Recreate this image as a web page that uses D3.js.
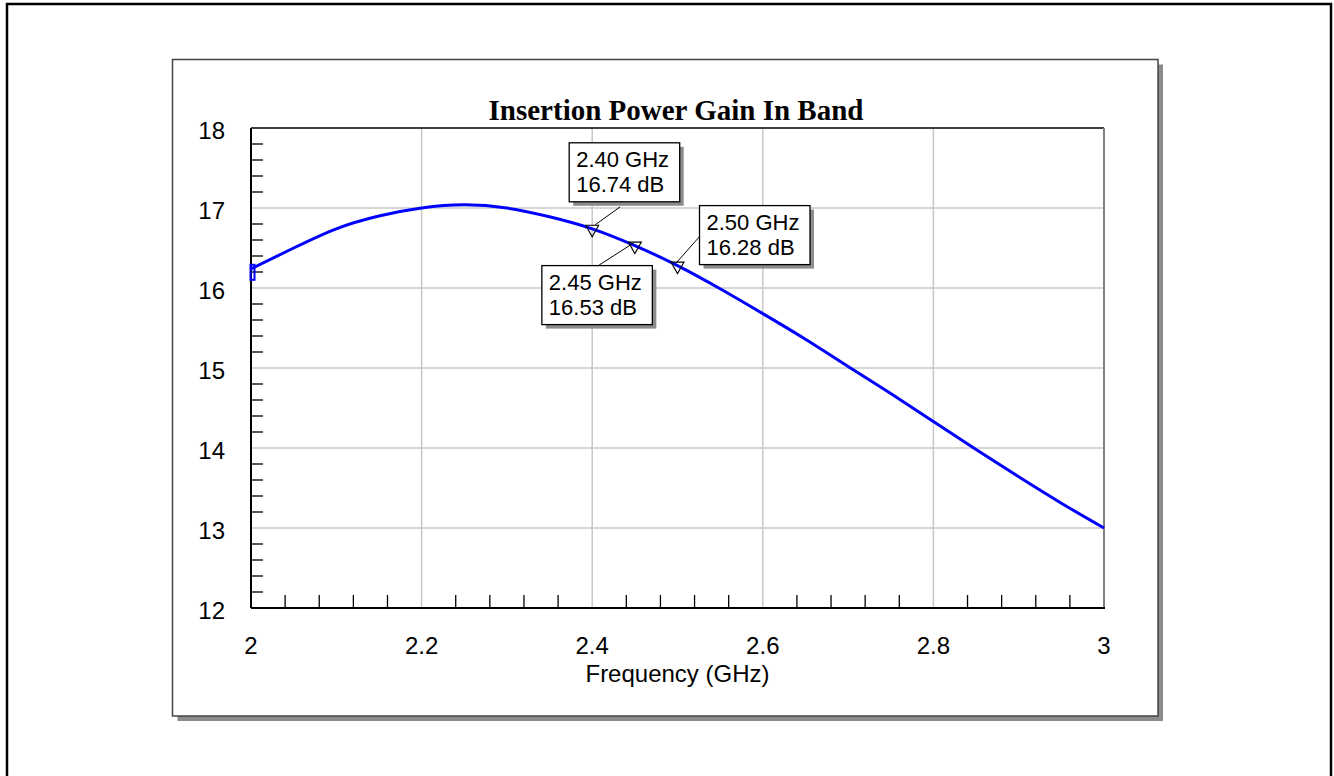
<!DOCTYPE html>
<html>
<head>
<meta charset="utf-8">
<script src="https://cdn.jsdelivr.net/npm/d3@7"></script>
<style>
  html, body { margin: 0; padding: 0; background: #fff; }
  svg { display: block; }
</style>
</head>
<body>
<svg id="chart" width="1334" height="776"></svg>
<script>
// Insertion power gain sweep, 2-3 GHz
const freqGHz = [2.00, 2.05, 2.10, 2.15, 2.20, 2.25, 2.30, 2.35, 2.40, 2.45, 2.50,
                 2.55, 2.60, 2.65, 2.70, 2.75, 2.80, 2.85, 2.90, 2.95, 3.00];
const gainDB  = [16.24, 16.50, 16.74, 16.90, 17.00, 17.04, 17.00, 16.89, 16.74, 16.53, 16.28,
                 15.99, 15.68, 15.36, 15.02, 14.68, 14.33, 13.98, 13.64, 13.31, 13.00];

// Marker readouts
const markerFreq = [2.40, 2.45, 2.50];
const markerGain = [16.74, 16.53, 16.28];

// Axis tick labels
const xTickValues = [2, 2.2, 2.4, 2.6, 2.8, 3];
const xTickLabels = ["2", "2.2", "2.4", "2.6", "2.8", "3"];
const yTickValues = [12, 13, 14, 15, 16, 17, 18];
const yTickLabels = ["12", "13", "14", "15", "16", "17", "18"];

const titleText = "Insertion Power Gain In Band";
const xAxisTitle = "Frequency (GHz)";

const svg = d3.select("#chart");
const FONT = "Liberation Sans, Arial, sans-serif";

// Outer page frame
svg.append("rect")
  .attr("x", 7).attr("y", 4).attr("width", 1324).attr("height", 800)
  .attr("fill", "none").attr("stroke", "#000").attr("stroke-width", 2.5);

// Chart panel with drop shadow
const panel = { x: 172.5, y: 59.5, w: 985.5, h: 656.5 };
svg.append("rect")
  .attr("x", panel.x + 5).attr("y", panel.y + 5).attr("width", panel.w).attr("height", panel.h)
  .attr("fill", "#8c8c8c");
svg.append("rect")
  .attr("x", panel.x).attr("y", panel.y).attr("width", panel.w).attr("height", panel.h)
  .attr("fill", "#fff").attr("stroke", "#444").attr("stroke-width", 1.5);

// Plot area
const plot = { left: 251, top: 128, right: 1104, bottom: 608 };
const x = d3.scaleLinear().domain([2, 3]).range([plot.left, plot.right]);
const y = d3.scaleLinear().domain([12, 18]).range([plot.bottom, plot.top]);

const g = svg.append("g");

// Grid lines
g.selectAll(".vgrid").data(xTickValues.slice(1, -1)).join("line")
  .attr("x1", d => x(d)).attr("x2", d => x(d))
  .attr("y1", plot.top).attr("y2", plot.bottom)
  .attr("stroke", "#c8c8c8").attr("stroke-width", 1.5);
g.selectAll(".hgrid").data(yTickValues.slice(1, -1)).join("line")
  .attr("x1", plot.left).attr("x2", plot.right)
  .attr("y1", d => y(d)).attr("y2", d => y(d))
  .attr("stroke", "#c8c8c8").attr("stroke-width", 1.5);

// Minor ticks pointing into the plot
const xMinor = d3.range(0, 26).map(i => 2 + i * 0.04).filter((d, i) => i % 5 !== 0);
const yMinor = d3.range(0, 31).map(i => 12 + i * 0.2).filter((d, i) => i % 5 !== 0);
g.selectAll(".xminor").data(xMinor).join("line")
  .attr("x1", d => x(d)).attr("x2", d => x(d))
  .attr("y1", plot.bottom).attr("y2", plot.bottom - 13)
  .attr("stroke", "#000").attr("stroke-width", 1.3);
g.selectAll(".yminor").data(yMinor).join("line")
  .attr("x1", plot.left).attr("x2", plot.left + 12)
  .attr("y1", d => y(d)).attr("y2", d => y(d))
  .attr("stroke", "#000").attr("stroke-width", 1.3);

// Plot frame
g.append("line").attr("x1", plot.left).attr("x2", plot.right).attr("y1", plot.top).attr("y2", plot.top)
  .attr("stroke", "#000").attr("stroke-width", 1.5);
g.append("line").attr("x1", plot.right).attr("x2", plot.right).attr("y1", plot.top).attr("y2", plot.bottom)
  .attr("stroke", "#808080").attr("stroke-width", 2);
g.append("line").attr("x1", plot.left).attr("x2", plot.right + 1).attr("y1", plot.bottom).attr("y2", plot.bottom)
  .attr("stroke", "#000").attr("stroke-width", 2);
g.append("line").attr("x1", plot.left).attr("x2", plot.left).attr("y1", plot.top).attr("y2", plot.bottom)
  .attr("stroke", "#000").attr("stroke-width", 2);

// Tick labels
g.selectAll(".xlab").data(xTickValues).join("text")
  .attr("x", d => x(d)).attr("y", plot.bottom + 46)
  .attr("text-anchor", "middle").attr("font-family", FONT).attr("font-size", 24)
  .text((d, i) => xTickLabels[i]);
g.selectAll(".ylab").data(yTickValues).join("text")
  .attr("x", plot.left - 26).attr("y", d => y(d) + 11)
  .attr("text-anchor", "end").attr("font-family", FONT).attr("font-size", 24)
  .text((d, i) => yTickLabels[i]);

// Titles
svg.append("text").attr("x", 676).attr("y", 120)
  .attr("text-anchor", "middle").attr("font-family", "Liberation Serif, Times New Roman, serif")
  .attr("font-weight", "bold").attr("font-size", 29).text(titleText);
svg.append("text").attr("x", (plot.left + plot.right) / 2).attr("y", 682)
  .attr("text-anchor", "middle").attr("font-family", FONT).attr("font-size", 24).text(xAxisTitle);

// Gain trace
const line = d3.line().x(d => x(d[0])).y(d => y(d[1])).curve(d3.curveNatural);
const pts = freqGHz.map((f, i) => [f, gainDB[i]]);
g.append("path").datum(pts).attr("d", line)
  .attr("fill", "none").attr("stroke", "#0000ff").attr("stroke-width", 3);

// Start-of-trace indicator
g.append("rect")
  .attr("x", x(freqGHz[0]) - 0.5).attr("y", y(gainDB[0]) - 4)
  .attr("width", 4).attr("height", 15)
  .attr("fill", "none").attr("stroke", "#0000ff").attr("stroke-width", 2);

// Marker readouts: box offset and leader line endpoints relative to the marked point
const labelLayout = [
  { bx: -23, by: -86, l1: [3, -4],   l2: [28, -22] },
  { bx: -93, by: 20,  l1: [-36.5, 20], l2: [-1.5, -2.5] },
  { bx: 22,  by: -60, l1: [-1, -3],  l2: [22, -29] }
];
const boxW = 110.5, boxH = 59;

markerFreq.forEach((f, i) => {
  const px = x(f), py = y(markerGain[i]);
  const L = labelLayout[i];
  const mg = g.append("g");
  // leader
  mg.append("line")
    .attr("x1", px + L.l1[0]).attr("y1", py + L.l1[1])
    .attr("x2", px + L.l2[0]).attr("y2", py + L.l2[1])
    .attr("stroke", "#000").attr("stroke-width", 1);
  // triangle marker
  mg.append("path")
    .attr("d", `M${px - 6.5},${py - 3.5}L${px + 6.5},${py - 3.5}L${px},${py + 8}Z`)
    .attr("fill", "none").attr("stroke", "#000").attr("stroke-width", 1.1);
  // box with shadow
  const bx = px + L.bx, by = py + L.by;
  mg.append("rect").attr("x", bx + 4).attr("y", by + 4).attr("width", boxW).attr("height", boxH)
    .attr("fill", "#8c8c8c");
  mg.append("rect").attr("x", bx).attr("y", by).attr("width", boxW).attr("height", boxH)
    .attr("fill", "#fff").attr("stroke", "#000").attr("stroke-width", 1.3);
  mg.append("text").attr("x", bx + 7).attr("y", by + 24)
    .attr("font-family", FONT).attr("font-size", 22)
    .text(`${f.toFixed(2)} GHz`);
  mg.append("text").attr("x", bx + 7).attr("y", by + 49)
    .attr("font-family", FONT).attr("font-size", 22)
    .text(`${markerGain[i].toFixed(2)} dB`);
});
</script>
</body>
</html>
